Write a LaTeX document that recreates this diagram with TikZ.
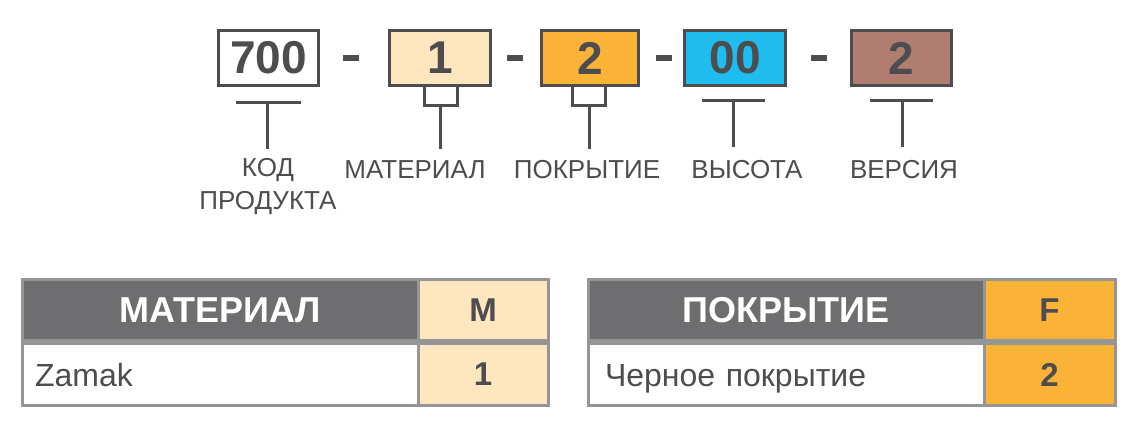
\documentclass[tikz,border=0pt]{standalone}
\usepackage{fontspec}
\setmainfont{Liberation Sans}
\definecolor{ink}{HTML}{4D4D4F}
\definecolor{peach}{HTML}{FEE6BF}
\definecolor{orangec}{HTML}{FBB337}
\definecolor{bluec}{HTML}{1EBDED}
\definecolor{brownc}{HTML}{B17D70}
\definecolor{headgray}{HTML}{6E6E70}
\definecolor{tborder}{HTML}{959595}
\tikzset{
  codebox/.style={draw=ink, line width=3pt, minimum height=55pt, inner sep=0pt, text=ink,
    font=\bfseries\fontsize{46}{46}\selectfont},
  dashbar/.style={fill=ink, draw=none, minimum width=16pt, minimum height=6pt, inner sep=0pt},
  lead/.style={draw=ink, line width=3pt},
  lbl/.style={text=ink, font=\fontsize{26}{33}\selectfont, align=center, inner sep=0pt},
  tcell/.style={draw=tborder, line width=3pt, inner sep=0pt},
  thead/.style={tcell, minimum height=61pt, fill=headgray, text=white, font=\bfseries\fontsize{36}{36}\selectfont},
  tcode/.style={tcell, text=ink, font=\bfseries\fontsize{33}{33}\selectfont},
  tbody/.style={tcell, minimum height=62pt, fill=white, text=ink, font=\fontsize{32}{32}\selectfont,
    text width=396pt-2*#1, align=left, inner xsep=#1, text height=23pt, text depth=0pt}
}
\begin{document}
\begin{tikzpicture}[x=1pt,y=-1pt]
\useasboundingbox[fill=white] (0,0) rectangle (1138,424);
% code boxes
\node[codebox, minimum width=100pt] (b700) at (268.5,58) {700};
\node[codebox, minimum width=101pt, fill=peach] (bmat) at (440,58) {1};
\node[codebox, minimum width=97pt, fill=orangec] (bcoat) at (590,58) {2};
\node[codebox, minimum width=101pt, fill=bluec] (bhgt) at (735,58) {00};
\node[codebox, minimum width=100pt, fill=brownc] (bver) at (901.5,58) {2};
% dashes
\node[dashbar] (d1) at (351,58) {};
\node[dashbar] (d2) at (515,58) {};
\node[dashbar] (d3) at (664,58) {};
\node[dashbar] (d4) at (819,58) {};
% labels
\node[lbl] (lcode) at (268,187) {КОД\\ПРОДУКТА};
\node[lbl] (lmat) at (415,170) {МАТЕРИАЛ};
\node[lbl] (lcoat) at (587,170) {ПОКРЫТИЕ};
\node[lbl] (lhgt) at (747,170) {ВЫСОТА};
\node[lbl] (lver) at (904,170) {ВЕРСИЯ};
% leaders
\coordinate (t700) at (267,102);
\draw[lead] (236,102) -- (301,102);
\draw[lead] (t700) -- (t700 |- 0,149);
\draw[lead] (424,86) -- (424,105) -- (457,105) -- (457,86);
\draw[lead] (440,105) -- (440,149);
\draw[lead] (572,86) -- (572,105) -- (605,105) -- (605,86);
\draw[lead] (589,105) -- (589,149);
\draw[lead] (702,100) -- (765,100);
\draw[lead] (733,100) -- (733,147);
\draw[lead] (870,100) -- (933,100);
\draw[lead] (902,100) -- (902,147);
% left table
\node[thead, minimum width=396pt] (mh) at (220,310) {МАТЕРИАЛ};
\node[tcode, fill=peach, minimum width=130pt, minimum height=61pt] (mhc) at (483,310) {M};
\node[tbody=13pt] (mb) at (220,374.5) {Zamak};
\node[tcode, fill=peach, minimum width=130pt, minimum height=62pt] (mbc) at (483,374.5) {1};
% right table
\node[thead, minimum width=396pt] (ch) at (786,310) {ПОКРЫТИЕ};
\node[tcode, fill=orangec, minimum width=131pt, minimum height=61pt] (chc) at (1049.5,310) {F};
\node[tbody=17pt] (cb) at (786,374.5) {Черное покрытие};
\node[tcode, fill=orangec, minimum width=131pt, minimum height=62pt] (cbc) at (1049.5,374.5) {2};
\end{tikzpicture}
\end{document}
